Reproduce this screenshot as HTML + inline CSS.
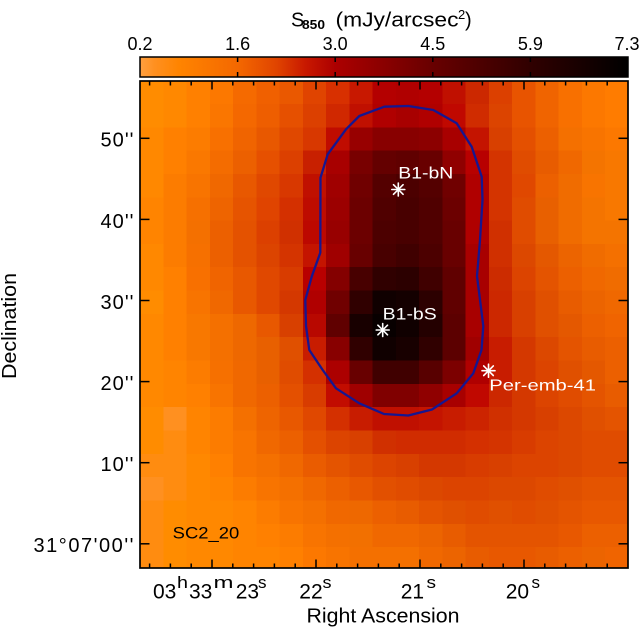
<!DOCTYPE html>
<html><head><meta charset="utf-8">
<style>
html,body{margin:0;padding:0;background:#fff;}
svg{display:block;}
text{font-family:"Liberation Sans",sans-serif;fill:#000;}
</style></head>
<body>
<svg id="s" width="640" height="627" viewBox="0 0 640 627" xmlns="http://www.w3.org/2000/svg">
<defs>
<clipPath id="cp"><rect x="140" y="81" width="488" height="487"/></clipPath>
<linearGradient id="cb" x1="0" x2="1" y1="0" y2="0">
<stop offset="0" stop-color="#ffa040"/>
<stop offset="0.03" stop-color="#ff9020"/>
<stop offset="0.08" stop-color="#ff8400"/>
<stop offset="0.2" stop-color="#f46800"/>
<stop offset="0.28" stop-color="#e04400"/>
<stop offset="0.34" stop-color="#c81800"/>
<stop offset="0.4" stop-color="#ac0000"/>
<stop offset="0.6" stop-color="#680000"/>
<stop offset="0.8" stop-color="#300000"/>
<stop offset="1" stop-color="#000000"/>
</linearGradient>
</defs>
<g id="cells" clip-path="url(#cp)" shape-rendering="crispEdges"></g>

<!-- contour -->
<path d="M359.3,116 L384.3,106.7 L408.3,106 L433.3,110 L456.7,123.3 L471.7,146.7 L481.7,176.7 L482.5,200 L480,240 L477,276 L483.3,326 L481.5,350 L473.3,373.3 L456.7,393.3 L432,409.5 L408.3,415.5 L384,414 L359.3,403.3 L336,388.3 L322.7,370 L309.3,350 L306,326 L305.3,300 L311.7,276.7 L320.3,252.7 L320.5,177.7 L327.7,154.3 L346,129.3 Z" fill="none" stroke="#161690" stroke-width="2.3" stroke-linejoin="round"/>

<g id="stars" stroke="#fff" stroke-width="1.6" stroke-linecap="round"></g>

<!-- in-plot labels -->
<text x="398.3" y="178.3" font-size="17" style="fill:#fff" textLength="55" lengthAdjust="spacingAndGlyphs">B1-bN</text>
<text x="382.7" y="319.3" font-size="17" style="fill:#fff" textLength="54" lengthAdjust="spacingAndGlyphs">B1-bS</text>
<text x="489.3" y="390.7" font-size="16" style="fill:#fff" textLength="106.7" lengthAdjust="spacingAndGlyphs">Per-emb-41</text>
<text x="172.7" y="538.3" font-size="17" textLength="66.6" lengthAdjust="spacingAndGlyphs">SC2_20</text>

<!-- plot frame -->
<rect x="140" y="81" width="488" height="487" fill="none" stroke="#000" stroke-width="1.7"/>
<g id="ticks" stroke="#000" stroke-width="1.5"></g>

<!-- colorbar -->
<rect x="140" y="57" width="488" height="20" fill="url(#cb)" stroke="#000" stroke-width="1.5"/>
<g stroke="#000" stroke-width="1.5">
<line x1="237.6" y1="57" x2="237.6" y2="62"/><line x1="237.6" y1="77" x2="237.6" y2="72"/>
<line x1="335.2" y1="57" x2="335.2" y2="62"/><line x1="335.2" y1="77" x2="335.2" y2="72"/>
<line x1="432.8" y1="57" x2="432.8" y2="62"/><line x1="432.8" y1="77" x2="432.8" y2="72"/>
<line x1="530.4" y1="57" x2="530.4" y2="62"/><line x1="530.4" y1="77" x2="530.4" y2="72"/>
</g>
<g font-size="18" text-anchor="middle">
<text x="140" y="50">0.2</text>
<text x="237.6" y="50">1.6</text>
<text x="335.2" y="50">3.0</text>
<text x="432.8" y="50">4.5</text>
<text x="530.4" y="50">5.9</text>
<text x="627" y="50">7.3</text>
</g>
<text x="291" y="26.7" font-size="20">S</text>
<text x="302" y="29" font-size="13" font-weight="bold" textLength="23" lengthAdjust="spacingAndGlyphs">850</text>
<text x="335.5" y="26.7" font-size="20" textLength="123" lengthAdjust="spacingAndGlyphs">(mJy/arcsec</text>
<text x="458" y="19" font-size="13">2</text>
<text x="465" y="26.7" font-size="20">)</text>

<!-- y tick labels -->
<g font-size="20" text-anchor="end">
<text x="133.5" y="146.7" textLength="33" lengthAdjust="spacing">50''</text>
<text x="133.5" y="227.8" textLength="33" lengthAdjust="spacing">40''</text>
<text x="133.5" y="308.9" textLength="33" lengthAdjust="spacing">30''</text>
<text x="133.5" y="390" textLength="33" lengthAdjust="spacing">20''</text>
<text x="133.5" y="471.1" textLength="33" lengthAdjust="spacing">10''</text>
<text x="133.5" y="552.2" textLength="100" lengthAdjust="spacing">31°07'00''</text>
</g>

<!-- x tick labels -->
<g font-size="21">
<text x="153" y="598.3">03</text>
<text x="189" y="598.3">33</text>
<text x="235.7" y="598.3">23</text>
<text x="299.3" y="598.3">22</text>
<text x="400.7" y="598.3">21</text>
<text x="505.7" y="598.3">20</text>
</g>
<g font-size="17">
<text x="177" y="588" textLength="11" lengthAdjust="spacingAndGlyphs">h</text>
<text x="213.5" y="588" textLength="20" lengthAdjust="spacingAndGlyphs">m</text>
<text x="258" y="588" textLength="8.5" lengthAdjust="spacingAndGlyphs">s</text>
<text x="322.5" y="588" textLength="9" lengthAdjust="spacingAndGlyphs">s</text>
<text x="426.5" y="588" textLength="9.5" lengthAdjust="spacingAndGlyphs">s</text>
<text x="531.5" y="588" textLength="8.5" lengthAdjust="spacingAndGlyphs">s</text>
</g>

<!-- axis titles -->
<text x="306.5" y="622.5" font-size="20" textLength="153" lengthAdjust="spacingAndGlyphs">Right Ascension</text>
<text transform="translate(16,326) rotate(-90)" text-anchor="middle" font-size="20" textLength="106" lengthAdjust="spacingAndGlyphs">Declination</text>
</svg>
<script>
(function(){
var NS="http://www.w3.org/2000/svg";
var data=[
"ff8c00 ff8800 ff8000 fc7800 f56a00 f06000 ea5800 e04400 d83000 c81800 b40000 b00000 b40000 c01000 cc2800 dc4000 e85400 f06400 f87000 fc7800 ff7c00",
"ff8c00 ff8800 ff8000 fa7600 f46800 ee5e00 e65000 dc4000 d02800 c01000 b00000 a80000 b00000 c00800 d02c00 dc4400 e85400 f06400 f87000 fc7800 ff7c00",
"ff8800 ff8000 fc7c00 f87000 f06400 e85800 e04800 d83800 c00c00 980000 880000 880000 8c0000 a80000 c41400 d84000 e45000 ec6000 f47000 f87400 fc7800",
"ff8800 ff8000 fa7800 f46c00 ec6000 e65000 dc4000 c82000 a80000 780000 640000 600000 680000 900000 b80000 d43400 e04c00 e85c00 f06800 f47400 f87800",
"ff8800 fc7c00 f87400 f06800 e85800 e04800 d83800 c01000 a00000 700000 540000 4c0000 540000 700000 b00000 d43400 e04800 ec6000 f06c00 f87400 f87800",
"ff8400 fc7c00 f67000 ee6400 e65400 e04400 d43000 be0c00 9c0000 6c0000 500000 480000 500000 6c0000 b00000 d43400 e04c00 e86000 f06c00 f47400 f87800",
"ff8400 fc7c00 f47000 ec6000 e45200 dc4000 d03000 bc0800 980000 6c0000 4c0000 480000 500000 680000 b00000 d03000 e04c00 e86000 f06c00 f47400 f47400",
"ff8800 fc7c00 f67000 ec6000 e45200 dc4400 d43400 c41400 a00000 680000 480000 400000 4c0000 680000 a80000 d03000 dc4800 e45800 ec6400 f06c00 f47000",
"ff8800 ff8000 f87000 f06400 e85800 e04800 d83c00 b80000 840000 480000 300000 2c0000 400000 600000 a80000 cc2c00 dc4400 e45400 ec6000 f06800 f06c00",
"ff8c00 ff8000 f87400 f06800 e85800 e04800 d43800 b00000 700000 300000 100000 140000 2c0000 600000 a80000 cc2800 d84000 e05000 e85c00 ec6400 f06800",
"ff8800 ff8000 f87800 f47000 ee6800 e85800 d84000 b80800 600000 180000 080000 100000 240000 5c0000 a80000 cc2800 d84000 e05000 e45800 ec6000 f06400",
"ff8800 ff8000 f87800 f47000 ee6800 e86000 e05000 c81c00 880000 300000 100000 180000 300000 5c0000 a00000 c81c00 d43800 dc4800 e45400 e85c00 ec6000",
"ff8800 ff8400 fc7c00 f67000 f06800 e86000 e04c00 d43000 ac0000 680000 400000 400000 580000 7c0000 b00000 c81c00 d43800 dc4400 e05000 e45800 ec6000",
"ff8800 ff8400 ff8000 f87400 f06800 ec6000 e45000 d83c00 c20c00 a00000 800000 800000 900000 a80000 c00800 cc2800 d43800 dc4400 e04c00 e45400 e85c00",
"ff8c00 ff9020 ff8400 fc7c00 f47000 ee6400 e85800 e04800 d43000 c81c00 c01000 c01000 c41400 c81c00 cc2400 d03000 d43800 d84000 dc4800 e05000 e45400",
"ff8c00 ff8c10 ff8400 fc7c00 f87400 f06800 ec6000 e45000 dc4400 d84000 d03000 d02c00 d02c00 d02c00 d43000 d43400 d83c00 dc4400 dc4800 e04c00 e04c00",
"ff8c10 ff8c10 ff8800 ff8000 f87400 f47000 f06800 ea5c00 e45400 e04c00 dc4400 d84000 d43800 d43800 d83c00 d84000 dc4400 dc4400 dc4800 e04c00 e04c00",
"ff9020 ff8c10 ff8800 ff8400 fc7c00 f87400 f47000 f06800 ec6000 e85800 e25000 e04c00 dc4800 dc4400 dc4400 dc4800 dc4800 e04c00 e05000 e45400 e45400",
"ff8c10 ff8c00 ff8800 ff8800 ff8400 fc7c00 f87400 f47000 f06800 ee6800 ec6000 e85c00 e45400 e05000 e04c00 e05000 e04c00 e05000 e45400 e85800 e85800",
"ff8c10 ff8c00 ff8800 ff8800 ff8400 ff8000 fc7c00 f87400 f47000 f27000 f06800 f06800 ec6400 e85c00 e45400 e45400 e45400 e45400 e85800 ec6000 ec6000",
"ff8c10 ff8c00 ff8800 ff8800 ff8400 ff8400 ff8000 fc7800 f87400 f47000 f47000 f47000 f06800 ec6400 e85c00 e85800 e85800 e85c00 ec6000 ec6400 f06400"
];
var g=document.getElementById("cells");
for(var r=0;r<data.length;r++){
  var row=data[r].split(" ");
  for(var c=0;c<row.length;c++){
    var e=document.createElementNS(NS,"rect");
    e.setAttribute("x",(140+c*23.25).toFixed(2));
    e.setAttribute("y",(80.6+r*23.33).toFixed(2));
    e.setAttribute("width","23.6");
    e.setAttribute("height","23.7");
    e.setAttribute("fill","#"+row[c]);
    g.appendChild(e);
  }
}
function ln(p,x1,y1,x2,y2){
  var l=document.createElementNS(NS,"line");
  l.setAttribute("x1",x1);l.setAttribute("y1",y1);
  l.setAttribute("x2",x2);l.setAttribute("y2",y2);
  p.appendChild(l);
}
var st=document.getElementById("stars");
[[398.3,189.5],[382.7,330],[488.5,370.7]].forEach(function(s){
  var x=s[0],y=s[1],R=6.5,D=4.8;
  ln(st,x,y-R,x,y+R);
  ln(st,x-R,y,x+R,y);
  ln(st,x-D,y-D,x+D,y+D);
  ln(st,x-D,y+D,x+D,y-D);
});
var t=document.getElementById("ticks");
for(var k=0;k<23;k++){
  var x=149.6+20.8*k;
  var major=(k==3||k==8||k==13||k==18);
  var L=major?8.5:4.5;
  ln(t,x,568,x,568-L);
  ln(t,x,81,x,81+L);
}
[138.3,219.4,300.5,381.6,462.7,543.8].forEach(function(y){
  ln(t,140,y,149.5,y);
  ln(t,628,y,618.5,y);
});
})();
</script>
</body></html>
